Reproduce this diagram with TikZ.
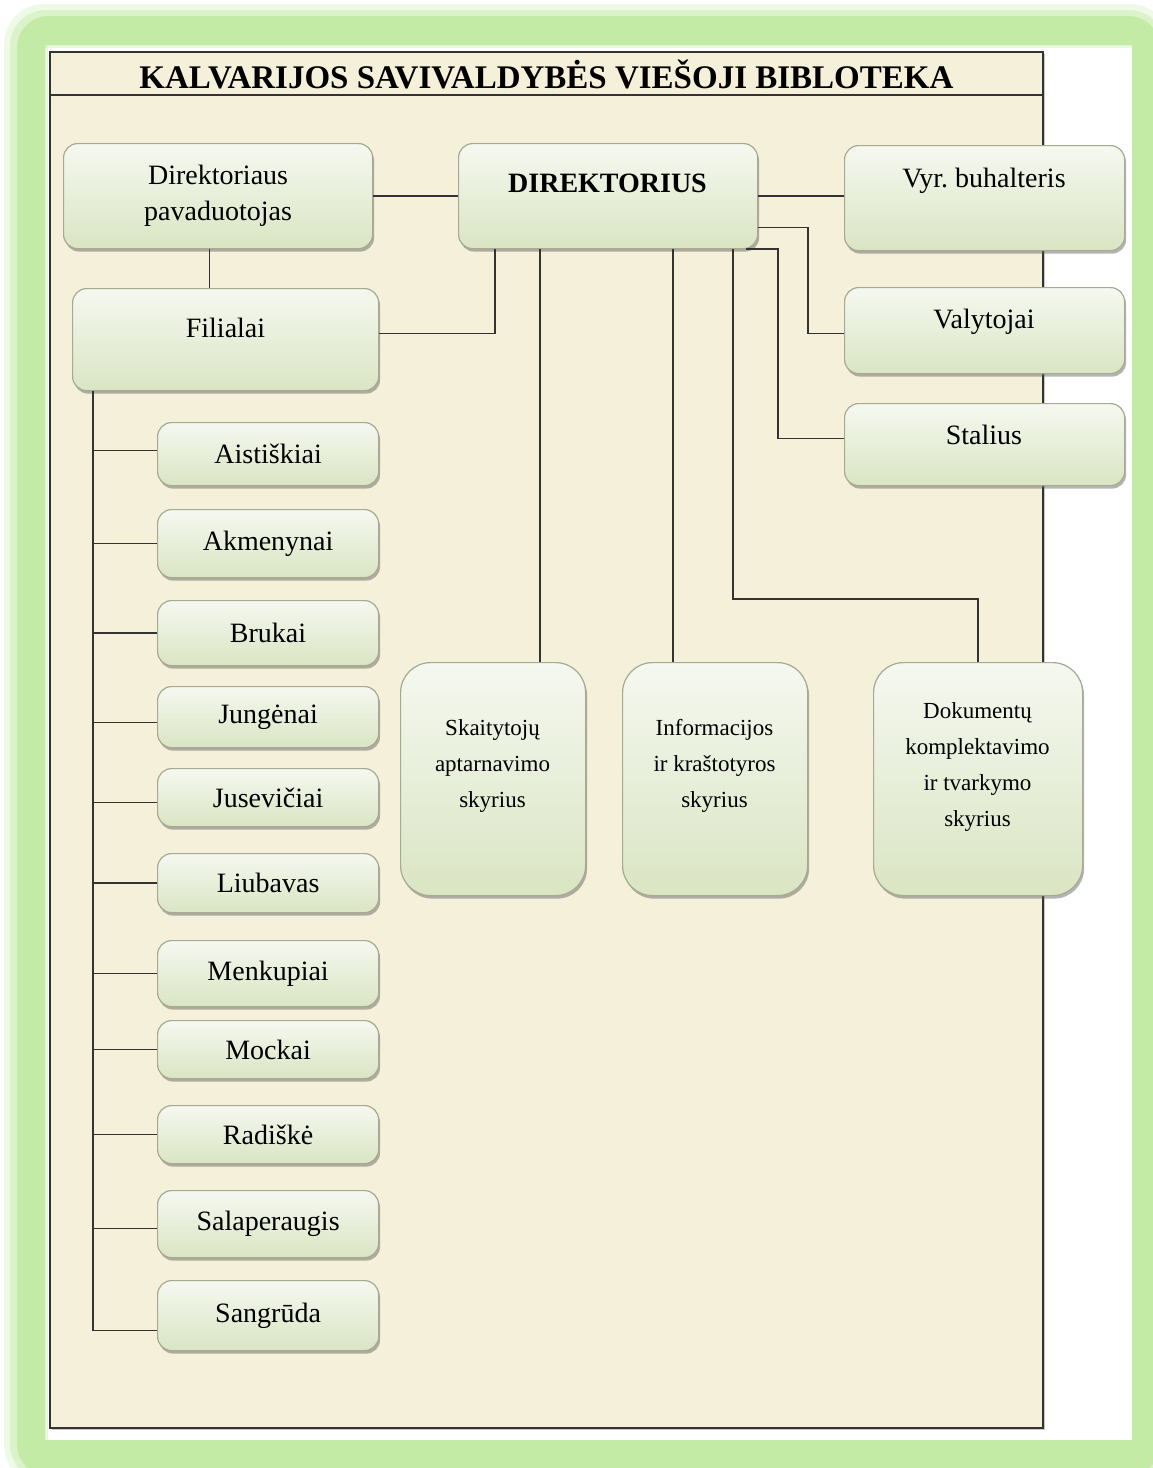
\documentclass[tikz,border=0pt]{standalone}
\usepackage{fontspec}
\setmainfont{Liberation Serif}
\frenchspacing
\usetikzlibrary{shadows,calc}
\definecolor{glow}{HTML}{C3EBA6}
\definecolor{paper}{HTML}{F5F0D9}
\definecolor{boxtop}{HTML}{F5F8F0}
\definecolor{boxbot}{HTML}{DAE5C3}
\definecolor{boxline}{HTML}{A5AA90}
\definecolor{linec}{HTML}{333333}
\tikzset{
  orgbox/.style={draw=boxline, line width=1.2pt, rounded corners=14pt,
    top color=boxtop, bottom color=boxbot,
    drop shadow={shadow xshift=1.5pt, shadow yshift=-3pt, opacity=0.45, fill=black!65},
    inner sep=0pt, anchor=north west, font=\fontsize{28}{36}\selectfont, align=center},
  tallbox/.style={orgbox, rounded corners=30pt},
  branch/.style={orgbox, minimum width=221pt},
  lbl/.style={font=\fontsize{28}{36}\selectfont, align=center, inner sep=0pt, text=black},
  smalllbl/.style={font=\fontsize{23}{36}\selectfont, align=center, inner sep=0pt, text=black},
  conn/.style={draw=linec, line width=1.6pt},
}
\begin{document}
\begin{tikzpicture}[x=1pt,y=-1pt]
\useasboundingbox (0,0) rectangle (1153,1468);
\fill[white] (0,0) rectangle (1153,1468);
% green glow frame
\fill[glow, opacity=0.25, even odd rule] [rounded corners=40] (4,4) rectangle (1170,1485) [sharp corners] (45,45) rectangle (1132,1440);
\fill[glow, opacity=0.45, even odd rule] [rounded corners=36] (10,10) rectangle (1165,1480) [sharp corners] (45,45) rectangle (1132,1440);
\fill[glow, even odd rule] [rounded corners=32] (17,16) rectangle (1160,1476) [sharp corners] (45,45) rectangle (1132,1440);
\fill[glow, opacity=0.35] (45,45) rectangle (1132,48);
\fill[glow, opacity=0.35] (45,45) rectangle (48,1440);
% main panel
\fill[black!22] (51.5,53.5) rectangle (1045,1430);
\fill[paper] (50,52) rectangle (1043,1428);
\draw[linec, line width=1.6pt] (50,52) rectangle (1043,1428);
\draw[linec, line width=1.6pt] (50,95) -- (1043,95);
\node[font=\fontsize{33}{38}\selectfont\bfseries, inner sep=0pt] (title) at (546.5,74) {KALVARIJOS SAVIVALDYBĖS VIEŠOJI BIBLOTEKA};

% top row
\node[orgbox, minimum width=309pt, minimum height=105pt] (dp) at (63,143) {Direktoriaus\\pavaduotojas};
\node[orgbox, minimum width=299pt, minimum height=105pt] (dir) at (458,143) {};
\node[lbl, font=\fontsize{28}{36}\selectfont\bfseries] (dirT) at (607.5,183.5) {DIREKTORIUS};
\node[orgbox, minimum width=280pt, minimum height=105pt] (vb) at (844,145) {};
\node[lbl] (vbT) at (984,181) {Vyr. buhalteris};
\node[orgbox, minimum width=306pt, minimum height=102pt] (fil) at (72,288) {};
\node[lbl] (filT) at (225.5,328) {Filialai};
\node[orgbox, minimum width=280pt, minimum height=86pt] (val) at (844,287) {};
\node[lbl] (valT) at (984,322) {Valytojai};
\node[orgbox, minimum width=280pt, minimum height=82pt] (st) at (844,403) {};
\node[lbl] (stT) at (984,434.5) {Stalius};

% departments
\node[tallbox, minimum width=185pt, minimum height=233pt] (sk) at (400,662) {};
\node[smalllbl] (skT) at (492.5,766) {Skaitytojų\\aptarnavimo\\skyrius};
\node[tallbox, minimum width=185pt, minimum height=233pt] (inf) at (622,662) {};
\node[smalllbl] (infT) at (714.5,766) {Informacijos\\ir kraštotyros\\skyrius};
\node[tallbox, minimum width=209pt, minimum height=233pt] (dok) at (873,662) {};
\node[smalllbl] (dokT) at (977.5,767) {Dokumentų\\komplektavimo\\ir tvarkymo\\skyrius};

% branches
\node[branch, minimum height=63pt] (ais) at (157,422) {Aistiškiai};
\node[branch, minimum height=68pt] (akm) at (157,509) {Akmenynai};
\node[branch, minimum height=65pt] (bru) at (157,600) {Brukai};
\node[branch, minimum height=61pt] (jun) at (157,686) {Jungėnai};
\node[branch, minimum height=58pt] (jus) at (157,768) {Jusevičiai};
\node[branch, minimum height=59pt] (liu) at (157,853) {Liubavas};
\node[branch, minimum height=66pt] (men) at (157,940) {Menkupiai};
\node[branch, minimum height=58pt] (moc) at (157,1020) {Mockai};
\node[branch, minimum height=58pt] (rad) at (157,1105) {Radiškė};
\node[branch, minimum height=67pt] (sal) at (157,1190) {Salaperaugis};
\node[branch, minimum height=70pt] (san) at (157,1280) {Sangrūda};

% connectors
\draw[conn] (dp.east) -- (dir.west);
\draw[conn] (dir.east) -- (dir.east -| vb.west);
\draw[conn] ([xshift=-8.5pt]dp.south) -- ([xshift=-8.5pt]dp.south |- fil.north);
\draw[conn] ([xshift=37pt]dir.south west) |- ([yshift=6pt]fil.east);
\draw[conn] ([xshift=82pt]dir.south west) -- ([xshift=82pt]dir.south west |- sk.north);
\draw[conn] ([xshift=215pt]dir.south west) -- ([xshift=215pt]dir.south west |- inf.north);
\coordinate (dk) at (733,599);
\draw[conn] ([xshift=275pt]dir.south west) -- (dk) -| (dok.north);
\draw[conn] ([yshift=-31.5pt]dir.east) -- ++(50,0) |- ([yshift=-3pt]val.west);
\draw[conn] ([xshift=-12pt]dir.south east) -- ++(32,0) |- ([yshift=6pt]st.west);

\coordinate (tr) at ([xshift=21pt]fil.south west);
\draw[conn] (tr) |- ([yshift=-15pt]san.west);
\draw[conn] ([yshift=3.5pt]ais.west) -- ([yshift=3.5pt]ais.west -| tr);
\draw[conn] (akm.west) -- (akm.west -| tr);
\draw[conn] (bru.west) -- (bru.west -| tr);
\draw[conn] ([yshift=-5.5pt]jun.west) -- ([yshift=-5.5pt]jun.west -| tr);
\draw[conn] ([yshift=-5pt]jus.west) -- ([yshift=-5pt]jus.west -| tr);
\draw[conn] (liu.west) -- (liu.west -| tr);
\draw[conn] (men.west) -- (men.west -| tr);
\draw[conn] (moc.west) -- (moc.west -| tr);
\draw[conn] (rad.west) -- (rad.west -| tr);
\draw[conn] ([yshift=-4.5pt]sal.west) -- ([yshift=-4.5pt]sal.west -| tr);
\end{tikzpicture}
\end{document}
